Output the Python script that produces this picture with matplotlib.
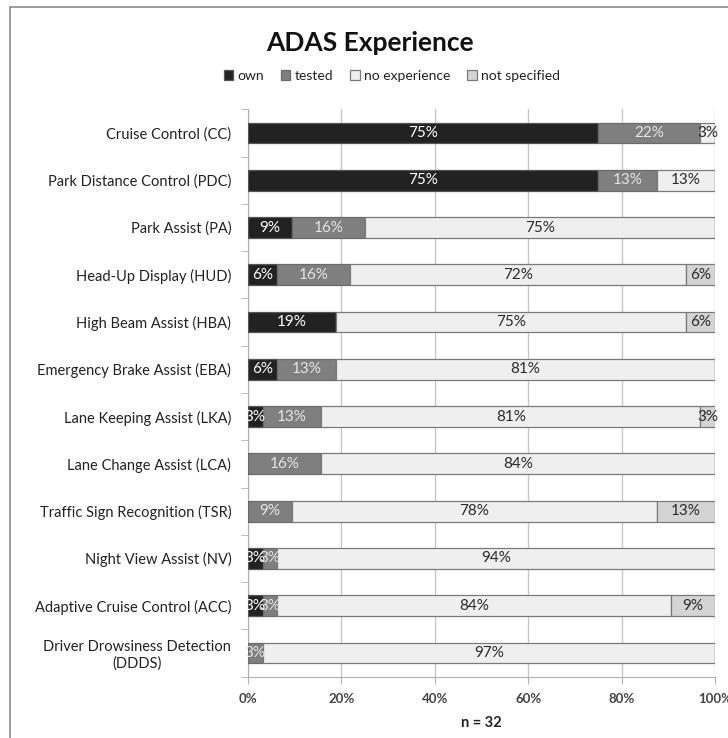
#!/usr/bin/env python3
"""ADAS experience stacked bar chart (n = 32)."""
import math

import matplotlib
matplotlib.use("Agg")
import matplotlib.pyplot as plt
from matplotlib.patches import Rectangle
from matplotlib.ticker import FixedLocator, PercentFormatter

N = 32

SYSTEMS = [
    "Cruise Control (CC)",
    "Park Distance Control (PDC)",
    "Park Assist (PA)",
    "Head-Up Display (HUD)",
    "High Beam Assist (HBA)",
    "Emergency Brake Assist (EBA)",
    "Lane Keeping Assist (LKA)",
    "Lane Change Assist (LCA)",
    "Traffic Sign Recognition (TSR)",
    "Night View Assist (NV)",
    "Adaptive Cruise Control (ACC)",
    "Driver Drowsiness Detection\n(DDDS)",
]

# respondent counts per answer
OWN           = [24, 24, 3, 2, 6, 2, 1, 0, 0, 1, 1, 0]
TESTED        = [7, 4, 5, 5, 0, 4, 4, 5, 3, 1, 1, 1]
NO_EXPERIENCE = [1, 4, 24, 23, 24, 26, 26, 27, 25, 30, 27, 31]
NOT_SPECIFIED = [0, 0, 0, 2, 2, 0, 1, 0, 4, 0, 3, 0]

CATEGORIES = ["own", "tested", "no experience", "not specified"]
COLORS = ["#222222", "#7f7f7f", "#efefef", "#d4d4d4"]
EDGES = ["#555555", "#6a6a6a", "#7a7a7a", "#7a7a7a"]
TEXT_COLORS = ["white", "#e6e6e6", "#2a2a2a", "#2a2a2a"]

plt.rcParams["font.family"] = ["Lato", "DejaVu Sans"]

fig = plt.figure(figsize=(7.28, 7.38), dpi=100)
ax = fig.add_axes([0.3407, 0.0832, 0.9822 - 0.3407, 0.8518 - 0.0832])

# outer chart frame
fig.patches.append(Rectangle((10 / 728, -0.1), 1.2, 1.1 - 7 / 738,
                             transform=fig.transFigure, fill=False,
                             edgecolor="#8a8a8a", lw=1.2, zorder=0))

ypos = list(range(len(SYSTEMS)))
left = [0.0] * len(SYSTEMS)
series = [OWN, TESTED, NO_EXPERIENCE, NOT_SPECIFIED]
for cat, counts, col, ec, tc in zip(CATEGORIES, series, COLORS, EDGES, TEXT_COLORS):
    pct = [100.0 * c / N for c in counts]
    ax.barh(ypos, pct, left=left, height=0.44, color=col, edgecolor=ec,
            linewidth=0.9, label=cat, zorder=3)
    for y, l, p in zip(ypos, left, pct):
        if p <= 0:
            continue
        ax.text(l + p / 2, y, f"{math.floor(p + 0.5)}%", ha="center",
                va="center", fontsize=11, color=tc, zorder=4, clip_on=False)
    left = [l + p for l, p in zip(left, pct)]

ax.set_xlim(0, 100)
ax.set_ylim(len(SYSTEMS) - 0.5, -0.5)
ax.xaxis.set_major_locator(FixedLocator([0, 20, 40, 60, 80, 100]))
ax.xaxis.set_major_formatter(PercentFormatter(decimals=0))
ax.grid(axis="x", color="#c8c8c8", lw=1.0, zorder=0)
ax.set_axisbelow(True)

ax.set_yticks(ypos)
ax.set_yticklabels(SYSTEMS, fontsize=10.5, color="#222222", multialignment="center")
ax.yaxis.set_minor_locator(FixedLocator([i - 0.5 for i in range(len(SYSTEMS) + 1)]))
ax.tick_params(axis="y", which="major", length=0, pad=12)
ax.tick_params(axis="y", which="minor", length=5, color="#b0b0b0", direction="out")
ax.tick_params(axis="x", length=5, color="#b0b0b0", labelsize=9.5,
               labelcolor="#444444", pad=7)
for lbl in ax.get_xticklabels():
    lbl.set_fontweight("bold")

for side in ("top", "right"):
    ax.spines[side].set_visible(False)
ax.spines["left"].set_color("#b0b0b0")
ax.spines["bottom"].set_color("#b0b0b0")

fig.text(0.508, 0.942, "ADAS Experience", ha="center", va="center",
         fontsize=19, fontweight="bold", color="#111111")
fig.legend(loc="center", bbox_to_anchor=(0.538, 0.897), ncol=4, frameon=False,
           fontsize=10, handlelength=0.7, handleheight=0.7, handletextpad=0.3,
           columnspacing=1.2, labelcolor="#222222")
ax.set_xlabel("n = 32", fontsize=10.5, fontweight="bold", color="#222222",
              labelpad=8)

fig.savefig("out.png", dpi=100)
